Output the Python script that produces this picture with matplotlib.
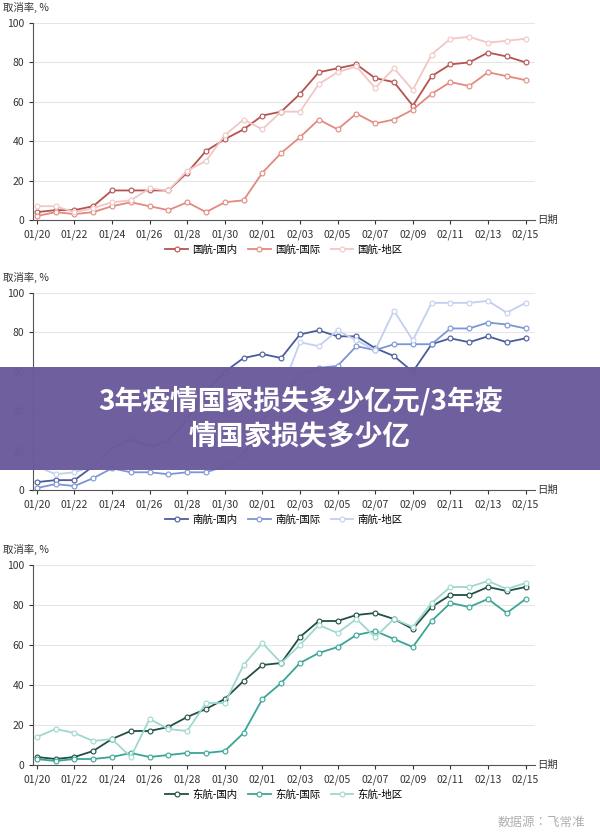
import matplotlib.pyplot as plt
import matplotlib.patches as mpatches
from matplotlib import font_manager

# pick whatever CJK family the font manager actually registered
cjk = [f.name for f in font_manager.fontManager.ttflist if 'CJK' in f.name]
pref = [n for n in cjk if n.endswith('SC')] or cjk
plt.rcParams['font.family'] = (pref[:1] if pref else []) + ['DejaVu Sans']

dates = ['01/%02d' % d for d in range(20, 32)] + ['02/%02d' % d for d in range(1, 16)]
tick_labels = dates[::2]

air_china = {
    '国航-国内': [4, 5, 5, 7, 15, 15, 15, 15, 24, 35, 41, 46, 53, 55, 64, 75, 77, 79, 72, 70, 58, 73, 79, 80, 85, 83, 80],
    '国航-国际': [2, 4, 3, 4, 7, 9, 7, 5, 9, 4, 9, 10, 24, 34, 42, 51, 46, 54, 49, 51, 56, 64, 70, 68, 75, 73, 71],
    '国航-地区': [7, 7, 4, 6, 9, 10, 16, 15, 25, 30, 43, 51, 46, 55, 55, 69, 75, 78, 67, 77, 66, 84, 92, 93, 90, 91, 92],
}
china_southern = {
    '南航-国内': [4, 5, 5, 12, 21, 26, 22, 25, 36, 50, 60, 67, 69, 67, 79, 81, 78, 78, 72, 68, 60, 74, 77, 75, 78, 75, 77],
    '南航-国际': [1, 3, 2, 6, 11, 9, 9, 8, 9, 9, 12, 18, 35, 48, 58, 62, 63, 73, 71, 74, 74, 74, 82, 82, 85, 84, 82],
    '南航-地区': [12, 8, 9, 12, 20, 16, 20, 18, 30, 45, 55, 58, 60, 50, 75, 73, 81, 76, 71, 91, 76, 95, 95, 95, 96, 90, 95],
}
china_eastern = {
    '东航-国内': [4, 3, 4, 7, 13, 17, 17, 19, 24, 28, 33, 42, 50, 51, 64, 72, 72, 75, 76, 73, 68, 79, 85, 85, 89, 87, 89],
    '东航-国际': [3, 2, 3, 3, 4, 6, 4, 5, 6, 6, 7, 16, 33, 41, 51, 56, 59, 65, 67, 63, 59, 72, 81, 79, 83, 76, 83],
    '东航-地区': [14, 18, 16, 12, 13, 4, 23, 18, 17, 31, 31, 50, 61, 51, 60, 70, 66, 73, 64, 73, 69, 81, 89, 89, 92, 88, 91],
}

panels = [
    (air_china, ['#b5534f', '#e3897f', '#f3c6c6'], 23, 220, 250),
    (china_southern, ['#4a5c9a', '#7b95d6', '#c3cff0'], 293, 490, 520),
    (china_eastern, ['#1f4f45', '#3aa596', '#9fd8cf'], 565, 765, 795),
]

W, H = 600, 838
fig = plt.figure(figsize=(W / 100, H / 100), dpi=100)
x = list(range(len(dates)))

for data, colors, top, bottom, leg_y in panels:
    ax = fig.add_axes([33 / W, 1 - bottom / H, 502 / W, (bottom - top) / H])
    for (name, vals), c in zip(data.items(), colors):
        ax.plot(x, vals, color=c, lw=1.3, marker='o', ms=3.5, mfc='white', mec=c, mew=0.8, label=name)
    ax.set_ylim(0, 100)
    ax.set_xlim(-0.2, 26.5)
    ax.set_yticks([0, 20, 40, 60, 80, 100])
    ax.set_xticks(x[::2])
    ax.set_xticklabels(tick_labels)
    ax.tick_params(labelsize=7.5, colors='#333333', length=3)
    ax.grid(axis='y', color='#e6e6e6', lw=0.8)
    for s in ['top', 'right']:
        ax.spines[s].set_visible(False)
    ax.spines['left'].set_color('#555555')
    ax.spines['bottom'].set_color('#555555')
    ax.text(-0.06, 1.05, '取消率, %', transform=ax.transAxes, fontsize=7.5, ha='left', va='bottom', color='#333333')
    ax.text(1.005, 0.0, '日期', transform=ax.transAxes, fontsize=7.5, ha='left', va='center', color='#333333')
    ax.legend(loc='center', bbox_to_anchor=(0.5, -(leg_y - bottom) / (bottom - top)), ncol=3,
              frameon=False, fontsize=7.5, handlelength=2.2, columnspacing=1.0, handletextpad=0.4)

fig.text(585 / W, 1 - 822 / H, '数据源：飞常准', fontsize=9, ha='right', va='center',
         color='#b0b0b0', style='italic')

fig.patches.append(mpatches.Rectangle((0, 1 - 470 / H), 1, 103 / H, transform=fig.transFigure,
                                      facecolor='#6b5a9b', alpha=0.97, zorder=10))
fig.text(0.5, 1 - 418 / H, '3年疫情国家损失多少亿元/3年疫\n情国家损失多少亿', fontsize=20, fontweight='bold',
         color='white', ha='center', va='center', linespacing=1.3, zorder=11)

fig.savefig('out.png', dpi=100, facecolor='white')
